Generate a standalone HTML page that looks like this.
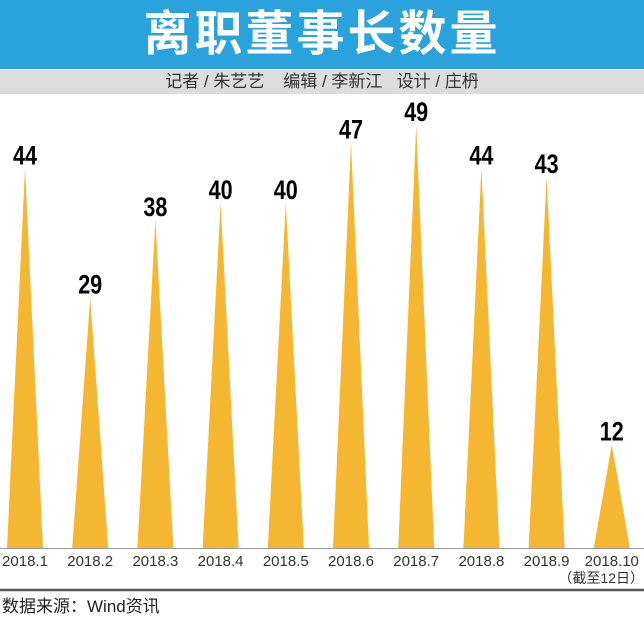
<!DOCTYPE html>
<html><head><meta charset="utf-8"><style>
body{margin:0;width:644px;height:620px;background:#fff;overflow:hidden;font-family:"Liberation Sans","Noto Sans CJK SC",sans-serif;position:relative}
#title{position:absolute;left:0;top:0;width:644px;height:69px;background:#2aa3dc;color:#fff;font-size:48px;font-weight:bold;text-align:center;line-height:69px;letter-spacing:3px}
#sub{position:absolute;left:0;top:70px;width:644px;height:24px;background:#dcdcdc;color:#333;font-size:17px;text-align:center;line-height:24px}
#foot{position:absolute;left:2px;top:592px;font-size:17px;color:#222}
</style></head><body>
<div id="title">离职董事长数量</div>
<div id="sub">记者 / 朱艺艺&nbsp;&nbsp;&nbsp;&nbsp;编辑 / 李新江&nbsp;&nbsp;&nbsp;设计 / 庄枬</div>
<svg id="chart" width="644" height="620" style="position:absolute;left:0;top:0"></svg>
<div id="foot">数据来源：Wind资讯</div>
<script>
const categories=["2018.1","2018.2","2018.3","2018.4","2018.5","2018.6","2018.7","2018.8","2018.9","2018.10"];
const values=[44,29,38,40,40,47,49,44,43,12];
const svg=document.getElementById('chart');
const NS="http://www.w3.org/2000/svg";
const base=548, unit=8.63;
function x(i){return 25+i*65.2;}
function y(v){return base-v*unit;}
function mk(t,a){const e=document.createElementNS(NS,t);for(const k in a)e.setAttribute(k,a[k]);svg.appendChild(e);return e;}
categories.forEach((c,i)=>{
 const cx=x(i),v=values[i];
 const p=mk('polygon',{points:`${cx-18},${base} ${cx},${y(v)} ${cx+18},${base}`,fill:'#f5b731'});
 
 
 const t=mk('text',{x:cx-12,y:y(v)-4,'font-size':'27','font-weight':'bold',textLength:'24',lengthAdjust:'spacingAndGlyphs','font-family':'"Liberation Sans Narrow","Liberation Sans",sans-serif',fill:'#000'});
 t.textContent=v;
 
 
 const l=mk('text',{x:cx,y:566,'text-anchor':'middle','font-size':'15',fill:'#333','font-family':'"Liberation Sans",sans-serif'});
 l.textContent=c;
 
 
});
const bl=mk('line',{x1:0,x2:644,y1:base+0.5,y2:base+0.5,stroke:'#999','stroke-width':1});


const note=mk('text',{x:644,y:583,'text-anchor':'end','font-size':'14',fill:'#333','font-family':'"Liberation Sans","Noto Sans CJK SC",sans-serif'});
note.textContent='（截至12日）';


const dl=mk('line',{x1:0,x2:644,y1:590,y2:590,stroke:'#555','stroke-width':2.5});


</script>
</body></html>
